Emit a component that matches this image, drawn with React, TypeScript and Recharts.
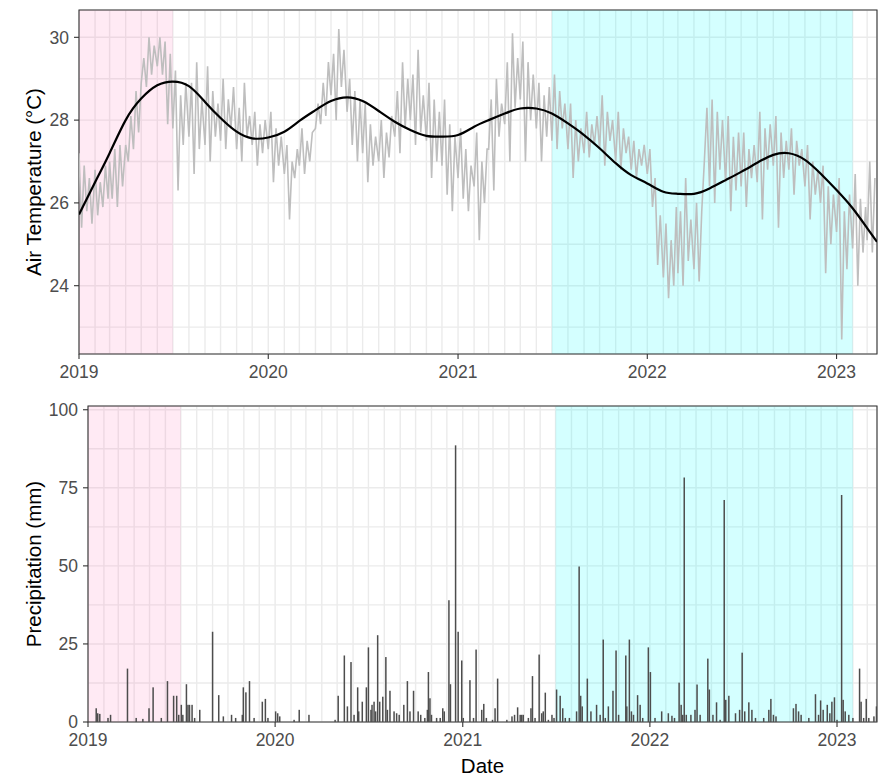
import {
  Bar,
  CartesianGrid,
  ComposedChart,
  Line,
  ReferenceArea,
  XAxis,
  YAxis,
} from "recharts";

const START = Date.UTC(2019, 0, 1);
const DAY_MS = 86400000;

function dayOf(y: number, m: number, d: number): number {
  return Math.round((Date.UTC(y, m - 1, d) - START) / DAY_MS);
}

const END_DAY = dayOf(2023, 3, 20);

// shaded periods
const PERIOD_A = [dayOf(2019, 1, 1), dayOf(2019, 7, 1)];
const PERIOD_B = [dayOf(2021, 7, 1), dayOf(2023, 2, 1)];

// air temperature (°C), read on days 1, 6, 11, 16, 21, 26 of each month
const sampleDays = [1, 6, 11, 16, 21, 26];

const airTemp2019 = [
  [27.2, 25.4, 26.9, 25.8, 26.6, 25.5],
  [26.8, 25.7, 26.5, 25.9, 26.9, 26.1],
  [27.0, 26.1, 27.3, 25.9, 27.4, 26.4],
  [27.4, 27.0, 28.1, 27.3, 28.7, 27.7],
  [28.9, 29.5, 28.8, 30.0, 29.1, 29.8],
  [29.3, 30.0, 29.1, 29.9, 27.9, 29.6],
  [27.8, 29.2, 26.3, 28.6, 27.4, 28.9],
  [27.6, 28.9, 26.7, 29.4, 27.3, 28.5],
  [27.4, 29.3, 27.0, 28.7, 27.6, 28.4],
  [27.5, 29.0, 27.3, 28.5, 27.8, 28.8],
  [27.3, 28.3, 27.0, 28.9, 27.6, 28.1],
  [27.4, 28.2, 26.9, 27.9, 27.2, 28.0],
];

const airTemp2020 = [
  [27.3, 28.2, 26.5, 27.8, 26.9, 27.6],
  [26.7, 27.4, 25.6, 27.0, 26.6, 27.3],
  [26.9, 27.8, 26.7, 27.5, 27.0, 27.7],
  [27.8, 28.4, 27.9, 28.9, 28.1, 29.4],
  [28.6, 29.6, 28.0, 30.2, 28.8, 29.7],
  [28.2, 29.0, 27.4, 28.7, 27.0, 28.5],
  [27.2, 28.4, 26.5, 27.9, 26.9, 27.6],
  [27.0, 28.0, 26.6, 27.7, 27.1, 28.1],
  [27.6, 28.7, 27.2, 29.4, 27.8, 29.0],
  [28.0, 29.1, 27.4, 29.7, 27.7, 28.6],
  [27.5, 28.9, 26.6, 28.5, 27.0, 28.2],
  [26.9, 28.5, 26.2, 27.9, 25.8, 27.6],
];

const airTemp2021 = [
  [26.6, 27.8, 26.1, 27.3, 25.8, 26.9],
  [26.4, 27.7, 25.1, 27.0, 26.0, 27.3],
  [27.3, 28.5, 26.3, 29.0, 27.6, 28.4],
  [27.9, 29.4, 27.0, 30.1, 28.3, 29.5],
  [28.5, 29.9, 27.0, 29.4, 28.0, 29.1],
  [27.8, 28.9, 27.0, 28.6, 27.6, 28.8],
  [27.5, 29.1, 27.3, 28.7, 27.8, 28.4],
  [27.3, 28.4, 26.6, 28.0, 27.0, 27.8],
  [27.2, 28.2, 27.1, 27.9, 27.4, 28.1],
  [27.3, 28.6, 26.9, 28.2, 27.5, 28.0],
  [27.0, 28.2, 26.8, 27.8, 27.2, 27.6],
  [26.8, 27.5, 26.6, 27.3, 26.9, 27.4],
];

const airTemp2022 = [
  [26.7, 27.3, 25.9, 26.6, 24.5, 25.7],
  [24.2, 25.5, 23.7, 25.1, 24.0, 25.9],
  [24.3, 25.8, 24.0, 26.6, 24.6, 25.6],
  [24.4, 26.0, 24.1, 25.8, 27.0, 28.3],
  [26.4, 28.5, 26.0, 28.2, 26.8, 28.0],
  [26.5, 28.1, 25.8, 27.6, 26.3, 27.7],
  [26.4, 27.7, 25.9, 27.3, 26.6, 27.4],
  [26.5, 28.2, 25.6, 27.8, 26.8, 27.9],
  [26.9, 28.1, 25.4, 27.7, 26.6, 27.5],
  [26.8, 27.8, 26.2, 27.5, 26.9, 27.3],
  [26.4, 27.4, 25.6, 27.0, 26.2, 26.8],
  [26.0, 26.9, 24.3, 26.4, 25.0, 26.2],
];

const airTemp2023 = [
  [25.3, 26.6, 22.7, 25.8, 24.4, 26.2],
  [24.9, 26.7, 24.0, 26.1, 24.8, 25.9],
  [25.1, 27.0, 24.8, 26.6],
];

// fitted trend, first of each month from Jan 2019, plus the last day
const trendMonthly = [
  25.72, 26.5, 27.2, 28.0, 28.52, 28.84, 28.93, 28.82, 28.44, 28.05, 27.72, 27.56,
  27.58, 27.72, 27.98, 28.24, 28.46, 28.55, 28.46, 28.22, 27.96, 27.76, 27.62, 27.6,
  27.64, 27.84, 28.0, 28.16, 28.28, 28.28, 28.16, 27.92, 27.64, 27.32, 26.96, 26.67,
  26.47, 26.27, 26.22, 26.22, 26.35, 26.55, 26.75, 26.97, 27.16, 27.2, 27.04, 26.71,
  26.31, 25.87, 25.39,
];
const trendLast = 25.06;

// daily precipitation (mm): day number counted from 2019-01-01, amount
const rainDay = [
  16, 19, 23, 39, 44, 77, 94, 107, 119, 127, 143, 155, 167, 173, 177, 182, 185, 192, 195, 198,
  203, 208, 218, 243, 255, 264, 280, 288, 301, 303, 308, 315, 324, 340, 346, 351, 366, 370, 374, 402,
  412, 431, 482, 488, 500, 506, 513, 519, 526, 528, 535, 543, 547, 552, 554, 558, 561, 565, 569, 575,
  581, 584, 589, 597, 602, 607, 616, 623, 628, 635, 644, 649, 657, 662, 664, 667, 670, 680, 687, 692,
  695, 704, 707, 717, 722, 729, 732, 745, 752, 757, 768, 772, 777, 789, 794, 799, 817, 827, 832, 838,
  843, 846, 849, 859, 864, 867, 872, 880, 885, 888, 892, 898, 905, 909, 914, 921, 926, 931, 939, 953,
  958, 961, 964, 974, 981, 992, 999, 1005, 1009, 1015, 1024, 1030, 1035, 1049, 1051, 1056, 1060, 1064, 1072, 1077,
  1082, 1093, 1097, 1106, 1119, 1132, 1139, 1144, 1153, 1157, 1160, 1163, 1167, 1176, 1184, 1188, 1194, 1209, 1212, 1219,
  1226, 1233, 1241, 1244, 1250, 1263, 1271, 1276, 1281, 1289, 1295, 1302, 1318, 1328, 1332, 1337, 1342, 1376, 1381, 1386,
  1391, 1406, 1419, 1425, 1429, 1434, 1442, 1447, 1451, 1456, 1461, 1470, 1473, 1477, 1484, 1492, 1505, 1508, 1513, 1518,
  1523, 1533, 1538,
];
const rainMm = [
  4.4, 2.8, 2.6, 1.3, 2.3, 17.1, 1.3, 1.0, 4.4, 11.1, 1.3, 13.1, 8.4, 8.4, 2.3, 5.5, 2.3, 12.1, 5.5, 5.5,
  5.5, 1.3, 3.9, 28.9, 8.6, 1.8, 2.3, 1.3, 2.3, 11.1, 9.5, 13.1, 1.3, 6.5, 7.4, 1.3, 3.4, 2.8, 1.8, 0.7,
  3.9, 2.3, 0.7, 8.4, 21.3, 5.0, 19.2, 2.3, 11.1, 3.4, 6.5, 11.1, 23.9, 3.9, 5.5, 6.5, 3.4, 27.8, 6.5, 8.1,
  20.8, 3.9, 10.0, 3.4, 2.8, 2.3, 5.5, 13.1, 3.4, 10.0, 3.4, 2.3, 1.3, 3.9, 16.0, 7.6, 2.3, 1.3, 1.3, 4.4,
  3.4, 39.0, 12.1, 88.6, 28.9, 19.7, 1.3, 13.4, 1.3, 23.2, 3.9, 5.8, 1.3, 0.7, 4.4, 13.9, 0.7, 1.8, 2.3, 4.7,
  2.3, 2.3, 2.3, 1.3, 4.4, 14.7, 1.3, 21.6, 2.8, 3.4, 9.4, 0.7, 2.3, 1.3, 10.4, 8.4, 4.4, 1.3, 1.3, 3.4,
  49.8, 8.4, 5.0, 13.9, 3.4, 5.5, 2.3, 26.4, 1.3, 5.0, 10.0, 22.9, 2.3, 21.3, 5.0, 26.4, 3.4, 2.3, 8.6, 5.5,
  1.3, 23.9, 16.0, 1.3, 3.4, 2.8, 2.0, 1.3, 12.6, 5.5, 2.3, 78.3, 2.3, 2.3, 3.9, 12.0, 2.3, 20.3, 10.4, 2.3,
  6.3, 0.7, 71.1, 7.1, 8.4, 2.8, 3.9, 22.2, 3.4, 6.3, 3.9, 1.3, 1.3, 3.9, 7.4, 2.3, 1.8, 4.4, 5.8, 3.4,
  2.3, 1.3, 8.9, 2.3, 6.9, 3.9, 5.5, 2.8, 6.5, 7.9, 0.7, 72.7, 7.1, 3.4, 2.3, 1.3, 17.1, 6.5, 1.3, 7.4,
  1.3, 1.8, 5.0,
];

const tempYears = [
  [2019, airTemp2019],
  [2020, airTemp2020],
  [2021, airTemp2021],
  [2022, airTemp2022],
  [2023, airTemp2023],
] as const;

const tempData = tempYears.flatMap(([year, months]) =>
  months.flatMap((vals, m) =>
    vals.map((temp, i) => ({ day: dayOf(year, m + 1, sampleDays[i]), temp }))
  )
);

const trendData = [
  ...trendMonthly.map((temp, m) => ({
    day: dayOf(2019 + Math.floor(m / 12), (m % 12) + 1, 1),
    temp,
  })),
  { day: END_DAY, temp: trendLast },
];

const rainData = rainDay.map((day, i) => ({ day, mm: rainMm[i] }));

// monthly grid lines, labels only on January
const monthTicks: number[] = [];
for (let m = 0; m <= 50; m++) {
  monthTicks.push(dayOf(2019 + Math.floor(m / 12), (m % 12) + 1, 1));
}

const FONT = "'Liberation Sans', Arial, sans-serif";
const TICK_LEN = 5;
const X_GAP = 7;
const Y_GAP = 5;
const INK = "#333333";
const TICK_TEXT = "#4D4D4D";
const GRID = "#EBEBEB";
const RAIN_BAR_W = 1.5;

function YearTick(props: any) {
  const { x, y, payload } = props;
  const d = new Date(START + payload.value * DAY_MS);
  if (d.getUTCMonth() !== 0) return <g />;
  return (
    <g>
      <line x1={x} x2={x} y1={y - X_GAP - TICK_LEN} y2={y - X_GAP} stroke={INK} strokeWidth={1.1} />
      <text x={x} y={y} dy="0.71em" textAnchor="middle" fill={TICK_TEXT} fontSize={17.5} fontFamily={FONT}>
        {d.getUTCFullYear()}
      </text>
    </g>
  );
}

function valueTick(step: number) {
  return (props: any) => {
    const { x, y, payload } = props;
    const v = payload.value as number;
    if (Math.abs(v / step - Math.round(v / step)) > 1e-6) return <g />;
    return (
      <g>
        <line x1={x + Y_GAP} x2={x + Y_GAP + TICK_LEN} y1={y} y2={y} stroke={INK} strokeWidth={1.1} />
        <text x={x} y={y} dy="0.355em" textAnchor="end" fill={TICK_TEXT} fontSize={17.5} fontFamily={FONT}>
          {v}
        </text>
      </g>
    );
  };
}

// the band on a numeric axis is narrower than a pixel, so keep a fixed bar width around its centre
function RainBar(props: any) {
  const { x, y, width, height } = props;
  if (!height || height <= 0) return <g />;
  const cx = x + width / 2;
  return <rect x={cx - RAIN_BAR_W / 2} y={y} width={RAIN_BAR_W} height={height} fill="#4D4D4D" />;
}

const titleStyle = { textAnchor: "middle" as const, fill: "#000000", fontSize: 20.5, fontFamily: FONT };

export default function App() {
  return (
    <div style={{ position: "absolute", left: 0, top: 0, width: 885, fontFamily: FONT }}>
      <ComposedChart width={885} height={384} data={tempData} margin={{ top: 10, right: 8, bottom: 0, left: 0 }}>
        <CartesianGrid stroke={GRID} strokeWidth={1.4} />
        <XAxis
          dataKey="day"
          type="number"
          domain={[0, END_DAY]}
          ticks={monthTicks}
          interval={0}
          allowDataOverflow
          height={30}
          axisLine={false}
          tickLine={false}
          tickSize={TICK_LEN}
          tickMargin={X_GAP}
          tick={<YearTick />}
        />
        <YAxis
          type="number"
          domain={[22.35, 30.66]}
          ticks={[23, 24, 25, 26, 27, 28, 29, 30]}
          interval={0}
          allowDataOverflow
          width={79}
          axisLine={false}
          tickLine={false}
          tickSize={TICK_LEN}
          tickMargin={Y_GAP}
          tick={valueTick(2)}
          label={{ value: "Air Temperature (°C)", angle: -90, position: "insideLeft", offset: 34, style: titleStyle }}
        />
        <ReferenceArea x1={PERIOD_A[0]} x2={PERIOD_A[1]} fill="#FF69B4" fillOpacity={0.14} stroke="none" />
        <ReferenceArea x1={PERIOD_B[0]} x2={PERIOD_B[1]} fill="#00FFFF" fillOpacity={0.17} stroke="none" />
        <Line
          dataKey="temp"
          type="linear"
          stroke="#BEBEBE"
          strokeWidth={1.6}
          dot={false}
          activeDot={false}
          isAnimationActive={false}
        />
        <Line
          data={trendData}
          dataKey="temp"
          type="natural"
          stroke="#000000"
          strokeWidth={2.2}
          dot={false}
          activeDot={false}
          isAnimationActive={false}
        />
        <ReferenceArea x1={0} x2={END_DAY} fill="none" stroke={INK} strokeWidth={1.1} />
      </ComposedChart>

      <ComposedChart width={885} height={392} data={rainData} margin={{ top: 22, right: 8, bottom: 0, left: 0 }}>
        <CartesianGrid stroke={GRID} strokeWidth={1.4} />
        <XAxis
          dataKey="day"
          type="number"
          domain={[0, END_DAY]}
          ticks={monthTicks}
          interval={0}
          allowDataOverflow
          height={54}
          axisLine={false}
          tickLine={false}
          tickSize={TICK_LEN}
          tickMargin={X_GAP}
          tick={<YearTick />}
          label={{ value: "Date", position: "insideBottom", offset: 3, style: titleStyle }}
        />
        <YAxis
          type="number"
          domain={[0, 101.2]}
          ticks={[0, 12.5, 25, 37.5, 50, 62.5, 75, 87.5, 100]}
          interval={0}
          allowDataOverflow
          width={88}
          axisLine={false}
          tickLine={false}
          tickSize={TICK_LEN}
          tickMargin={Y_GAP}
          tick={valueTick(25)}
          label={{ value: "Precipitation (mm)", angle: -90, position: "insideLeft", offset: 33.5, style: titleStyle }}
        />
        <ReferenceArea x1={PERIOD_A[0]} x2={PERIOD_A[1]} fill="#FF69B4" fillOpacity={0.14} stroke="none" />
        <ReferenceArea x1={PERIOD_B[0]} x2={PERIOD_B[1]} fill="#00FFFF" fillOpacity={0.17} stroke="none" />
        <Bar dataKey="mm" fill="#4D4D4D" shape={<RainBar />} isAnimationActive={false} />
        <ReferenceArea x1={0} x2={END_DAY} fill="none" stroke={INK} strokeWidth={1.1} />
      </ComposedChart>
    </div>
  );
}
